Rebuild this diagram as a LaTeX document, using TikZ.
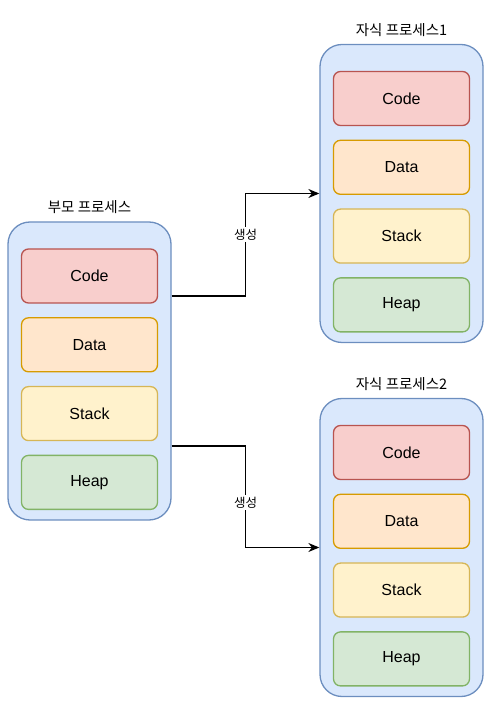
\documentclass[tikz,border=0pt]{standalone}
\usepackage{fontspec}
\setmainfont{Liberation Sans}
\newfontfamily\kr{Noto Sans CJK KR}
\usepackage{tikz}
\usetikzlibrary{positioning,arrows.meta}

\definecolor{procfill}{HTML}{DAE8FC}
\definecolor{procline}{HTML}{6C8EBF}
\definecolor{codefill}{HTML}{F8CECC}
\definecolor{codeline}{HTML}{B85450}
\definecolor{datafill}{HTML}{FFE6CC}
\definecolor{dataline}{HTML}{D79B00}
\definecolor{stackfill}{HTML}{FFF2CC}
\definecolor{stackline}{HTML}{D6B656}
\definecolor{heapfill}{HTML}{D5E8D4}
\definecolor{heapline}{HTML}{82B366}

\tikzset{
  proc/.style={draw=procline, fill=procfill, line width=1.3pt, rounded corners=22pt,
    minimum width=163pt, minimum height=298pt},
  seg/.style={draw, line width=1.3pt, rounded corners=7pt,
    minimum width=136pt, minimum height=54pt, font=\fontsize{16}{19}\selectfont},
  codeseg/.style={seg, draw=codeline, fill=codefill},
  dataseg/.style={seg, draw=dataline, fill=datafill},
  stackseg/.style={seg, draw=stackline, fill=stackfill},
  heapseg/.style={seg, draw=heapline, fill=heapfill},
  title/.style={font=\kr\fontsize{14.5}{17}\selectfont},
  arr/.style={-{Stealth[length=11pt,width=9pt]}, line width=1.3pt},
  lbl/.style={fill=white, inner sep=2pt, font=\kr\fontsize{12.5}{15}\selectfont}
}

\begin{document}
\begin{tikzpicture}[x=1pt,y=1pt]
  \useasboundingbox (0,0) rectangle (495,705);

  % processes
  \node[proc] (par) at (89.5,334) {};
  \node[proc] (chA) at (401.5,511.5) {};
  \node[proc] (chB) at (401.5,157.5) {};

  \node[title, above=4pt of par] (parlabel) {부모 프로세스};
  \node[title, above=4pt of chA] (chAlabel) {자식 프로세스1};
  \node[title, above=4pt of chB] (chBlabel) {자식 프로세스2};

  % memory segments
  \foreach \p in {par,chA,chB} {
    \node[codeseg, below=27pt of \p.north] (\p code) {Code};
    \node[dataseg, below=13.5pt of \p code] (\p data) {Data};
    \node[stackseg, below=13.5pt of \p data] (\p stack) {Stack};
    \node[heapseg, below=13.5pt of \p stack] (\p heap) {Heap};
  }

  % fork arrows
  \coordinate (outA) at ([yshift=75pt]par.east);
  \coordinate (outB) at ([yshift=-75pt]par.east);
  \draw[arr] (outA) -- ++(74pt,0) |- node[lbl, pos=0.3] {생성} (chA.west);
  \draw[arr] (outB) -- ++(74pt,0) |- node[lbl, pos=0.28] {생성} (chB.west);
\end{tikzpicture}
\end{document}
